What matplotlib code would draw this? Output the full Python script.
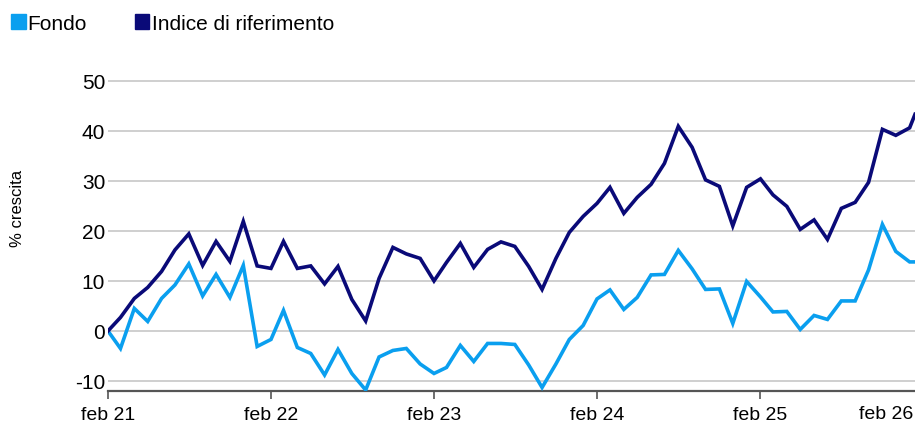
import matplotlib
matplotlib.use("Agg")
import matplotlib.pyplot as plt
import matplotlib.transforms as mtransforms
from matplotlib.patches import Patch
import pandas as pd

plt.rcParams['font.family'] = ['Liberation Sans', 'DejaVu Sans']

# ---- data ----
dates = list(pd.date_range('2021-02-01', periods=60, freq='MS')) + [pd.Timestamp('2026-01-13')]

indice = [0, 2.7, 6.5, 8.7, 11.9, 16.2, 19.4, 13.1, 17.9, 13.9,
          21.9, 13.0, 12.5, 17.9, 12.5, 13.0, 9.4, 12.9, 6.3, 2.0,
          10.5, 16.7, 15.4, 14.5, 10.0, 13.7, 17.5, 12.7, 16.3, 17.8,
          16.9, 12.9, 8.3, 14.5, 19.7, 22.9, 25.5, 28.7, 23.5, 26.7,
          29.3, 33.5, 40.9, 36.7, 30.2, 28.9, 21.0, 28.7, 30.4, 27.2,
          24.9, 20.3, 22.2, 18.3, 24.5, 25.7, 29.7, 40.3, 39.1, 40.6,
          43.3]

fondo = [0, -3.5, 4.5, 1.9, 6.5, 9.2, 13.4, 7.0, 11.3, 6.7,
         13.1, -3.1, -1.7, 4.1, -3.3, -4.5, -8.8, -3.7, -8.5, -11.8,
         -5.2, -3.9, -3.5, -6.6, -8.5, -7.3, -2.9, -6.1, -2.5, -2.5,
         -2.7, -6.8, -11.3, -6.6, -1.7, 1.1, 6.4, 8.2, 4.3, 6.7,
         11.2, 11.3, 16.1, 12.4, 8.3, 8.4, 1.5, 9.9, 6.8, 3.8,
         3.9, 0.3, 3.1, 2.3, 6.0, 6.0, 12.2, 21.3, 15.9, 13.8,
         13.8]

tick_dates = list(pd.date_range('2021-02-01', periods=6, freq='12MS'))
tick_labels = ['feb 21', 'feb 22', 'feb 23', 'feb 24', 'feb 25', 'feb 26']
y_ticks = [-10, 0, 10, 20, 30, 40, 50]

series_names = ['Fondo', 'Indice di riferimento']
colors = ['#0A9FEF', '#0A0A78']

# ---- figure ----
fig = plt.figure(figsize=(9.15, 4.27), dpi=100)
ax = fig.add_axes([0.118, 0.082, 0.882, 0.785])

ax.plot(dates, fondo, color=colors[0], lw=2.6, solid_joinstyle='miter', zorder=3)
ax.plot(dates, indice, color=colors[1], lw=2.6, solid_joinstyle='miter', zorder=4)

ax.set_xlim(dates[0], dates[-1])
ax.set_ylim(-12, 55)

ax.set_yticks(y_ticks)
ax.set_yticklabels([str(v) for v in y_ticks])
ax.grid(axis='y', color='#cccccc', lw=1.3)
ax.set_axisbelow(True)
ax.tick_params(axis='y', length=0, pad=2, labelsize=15)

visible = [d for d in tick_dates if d <= dates[-1]]
ax.set_xticks(visible)
ax.set_xticklabels(tick_labels[:len(visible)])
ax.tick_params(axis='x', length=6, width=1.2, color='#555555', pad=5, labelsize=14)
# last label (its tick falls beyond the axis end) shown at the right edge
trans = mtransforms.blended_transform_factory(ax.transAxes, ax.transAxes)
ax.text(0.998, -0.042, tick_labels[-1], transform=trans, ha='right', va='top',
        fontsize=14, color='black')

for s in ['top', 'right', 'left']:
    ax.spines[s].set_visible(False)
ax.spines['bottom'].set_color('#555555')
ax.spines['bottom'].set_linewidth(1.6)

fig.text(18 / 915, 1 - 208 / 427, '% crescita', rotation=90, ha='center', va='center',
         fontsize=12)

handles = [Patch(color=c) for c in colors]
fig.legend(handles, series_names, loc='upper left', bbox_to_anchor=(-0.004, 1.0),
           ncol=2, frameon=False, fontsize=15, handlelength=0.7, handleheight=0.7,
           handletextpad=0.1, columnspacing=2.3, borderaxespad=0.3)

fig.savefig('out.png', dpi=100)
